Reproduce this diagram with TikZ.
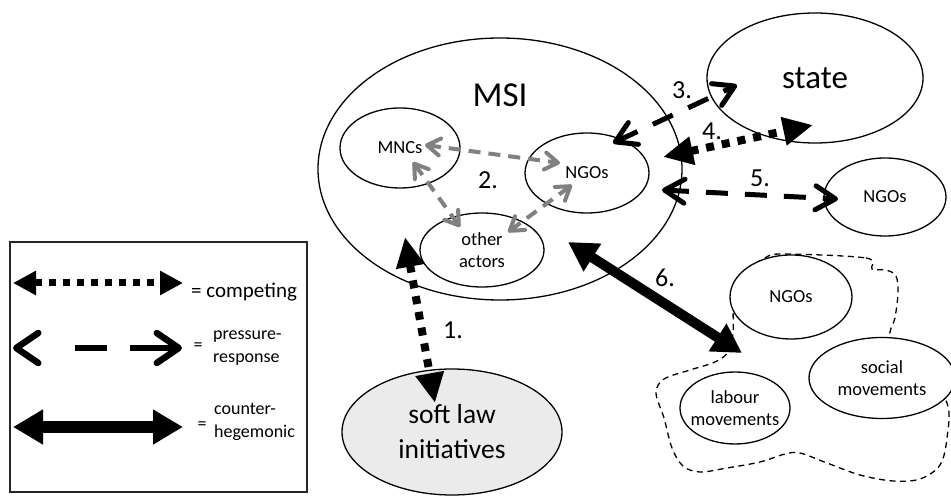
\documentclass[tikz,border=0pt]{standalone}
\usepackage{fontspec}
\setmainfont{Carlito}
\usepackage{tikz}
\usetikzlibrary{arrows.meta,shapes.geometric}

\newcommand\fsz[2]{\fontsize{#1}{#2}\selectfont}

\tikzset{
  blob/.style={ellipse,draw=black,line width=1.3pt,fill=white,inner sep=0pt,
    align=center,font=\fsz{18.5}{22}},
  big/.style={font=\fsz{33}{38}},
  num/.style={font=\fsz{26}{30}},
  legtxt/.style={font=\fsz{18}{23}},
  compete/.style={draw=black,line width=8pt,dash pattern=on 8pt off 8pt,
    >={Triangle[length=30pt,width=27pt]},<->},
  press/.style={draw=black,line width=5pt,dash pattern=on 22pt off 17pt,
    >={Straight Barb[length=20pt,width=24pt,round]},<->},
  counter/.style={draw=black,line width=10pt,
    >={Triangle[length=29pt,width=31pt]},<->},
  gpress/.style={draw=black!50,line width=4pt,dash pattern=on 12pt off 8pt,
    >={Straight Barb[length=13pt,width=17pt,round]},<->},
}

\begin{document}
\begin{tikzpicture}[x=1pt,y=1pt]
\useasboundingbox (0,0) rectangle (951,498);

% legend
\node[draw=black!85,line width=1.3pt,minimum width=297pt,minimum height=250pt,
      inner sep=0pt] (LEG) at (158.5,131) {};
\coordinate (C1) at (13,215);
\coordinate (C2) at (183,215);
\coordinate (P1) at (13,150);
\coordinate (P2) at (182,150);
\coordinate (H1) at (13,71);
\coordinate (H2) at (183,71);
\path (C1) edge[line width=7pt,dash pattern=on 7pt off 7pt,
      >={Triangle[length=23pt,width=23pt]},<->] (C2);
\path (P1) edge[press,line width=6.5pt,dash pattern=on 0pt off 55pt on 32pt off 23pt on 60pt,
      >={Straight Barb[length=22pt,width=30pt,round]}] (P2);
\path (H1) edge[counter,line width=12pt,>={Triangle[length=30pt,width=33pt]}] (H2);
\begin{scope}[every node/.style={legtxt,inner sep=0pt}]
    \node[anchor=base west,font=\fsz{21}{25}] (Tc) at (191,200) {= competing};
    \node (Ep) at (198,151) {=};
    \node[anchor=base west] (Tp1) at (213,158) {pressure-};
    \node[anchor=base west] (Tp2) at (213,135) {response};
    \node (Eh) at (202,72) {=};
    \node[anchor=base west] (Th1) at (214,83) {counter-};
    \node[anchor=base west] (Th2) at (214,60) {hegemonic};
\end{scope}

% dashed group round the movements
\draw[line width=1.3pt,dash pattern=on 6pt off 4.5pt] plot[smooth cycle,tension=0.55]
  coordinates {(783,244) (866,240) (872,229) (886,228) (896,222) (898,205)
  (895,180) (891,160) (920,130) (947,95) (947,60) (940,33) (920,19) (893,17)
  (860,23) (827,35) (800,45) (785,44) (760,36) (727,30) (700,26) (683,32)
  (672,50) (664,80) (656,105) (664,119) (690,128) (715,136) (728,146)
  (733,165) (734,195) (745,225) (765,240)};

\begin{scope}[every node/.style={blob}]
    \node[minimum width=364pt,minimum height=262pt,fill=none] (MSI) at (500,329) {};
    \node[minimum width=216pt,minimum height=130pt,big] (STATE) at (815,420) {state};
    \node[minimum width=120pt,minimum height=80pt] (MNC) at (400,350) {MNCs};
    \node[minimum width=124pt,minimum height=80pt] (NGO1) at (587,325) {NGOs};
    \node[minimum width=124pt,minimum height=74pt] (OTH) at (482,248) {other\\actors};
    \node[minimum width=122pt,minimum height=78pt] (NGO2) at (885,301) {NGOs};
    \node[minimum width=220pt,minimum height=126pt,fill=black!8,font=\fsz{27.5}{35}]
        (SOFT) at (452,66) {soft law\\initiatives};
    \node[minimum width=122pt,minimum height=84pt] (NGO3) at (791,201) {NGOs};
    \node[minimum width=146pt,minimum height=81pt] (SOC) at (882,120) {social\\movements};
    \node[minimum width=110pt,minimum height=72pt,inner xsep=-7pt] (LAB) at (735,90) {labour\\movements};
\end{scope}
\node[font=\fsz{35}{40}] (MSIt) at (500,403) {MSI};

% relations
\path ([shift={(25,3)}]MNC.center) edge[gpress] ([shift={(-27,10)}]NGO1.center);
\path ([shift={(13,-14)}]MNC.center) edge[gpress] ([shift={(-22,23)}]OTH.center);
\path ([shift={(-15,-12)}]NGO1.center) edge[gpress] ([shift={(26,18)}]OTH.center);
\path ([shift={(-95,-68)}]MSI.center) edge[compete] ([shift={(-17,29)}]SOFT.center);
\path ([shift={(26,30)}]NGO1.center) edge[press] ([shift={(-78,-7)}]STATE.center);
\path ([shift={(76,16)}]NGO1.center) edge[compete] ([shift={(-2,-47)}]STATE.center);
\path ([shift={(75,-17)}]NGO1.center) edge[press] ([shift={(-47,-2)}]NGO2.center);
\path ([shift={(68,-73)}]MSI.center) edge[counter] ([shift={(-49,-56)}]NGO3.center);

\begin{scope}[every node/.style={num}]
    \node (N1) at (453,168) {1.};
    \node (N2) at (488,318) {2.};
    \node (N3) at (682,408) {3.};
    \node (N4) at (712,367) {4.};
    \node (N5) at (760,320) {5.};
    \node (N6) at (665,220) {6.};
\end{scope}
\end{tikzpicture}
\end{document}
